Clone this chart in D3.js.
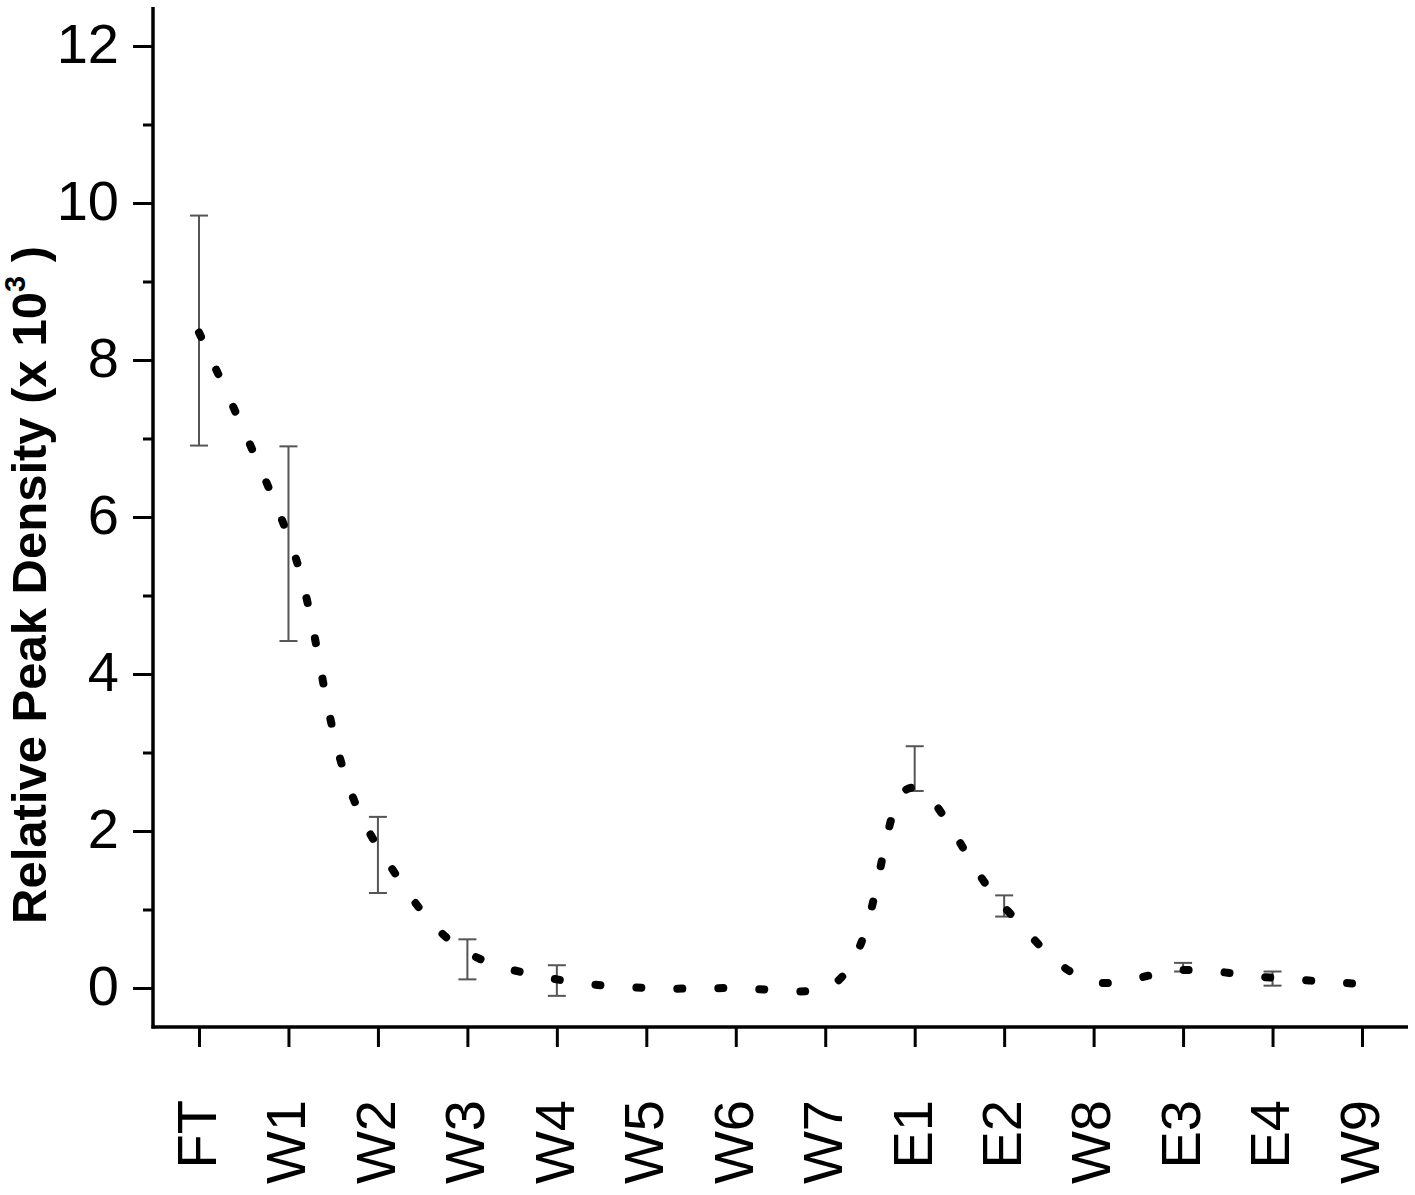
<!DOCTYPE html>
<html><head><meta charset="utf-8">
<script src="https://cdn.jsdelivr.net/npm/d3@7"></script>
<style>body{margin:0;background:#fff}svg{display:block}</style>
</head><body>
<script>
const categories = ["FT","W1","W2","W3","W4","W5","W6","W7","E1","E2","W8","E3","E4","W9"];
const values     = [8.35, 5.75, 1.8, 0.45, 0.11, 0, 0, 0, 2.55, 1.03, 0.08, 0.23, 0.13, 0.05];
const errLow     = [6.91, 4.42, 1.21, 0.11, -0.1, null, null, null, 2.51, 0.91, null, 0.21, 0.03, null];
const errHigh    = [9.84, 6.90, 2.18, 0.62, 0.29, null, null, null, 3.08, 1.18, null, 0.32, 0.21, null];
const yMajorTicks = [0,2,4,6,8,10,12];
const yMinorTicks = [1,3,5,7,9,11];

const W = 1415, H = 1195;
const svg = d3.select("body").append("svg").attr("width", W).attr("height", H);

const x = d3.scalePoint().domain(categories).range([199, 1362]);
const y = d3.scaleLinear().domain([0, 12]).range([988, 46]);

const axisX0 = 153, axisY0 = 1027;
const font = "Liberation Sans, Arial, sans-serif";

// minor y ticks
const gMinor = svg.append("g").attr("transform", `translate(${axisX0},0)`)
  .call(d3.axisLeft(y).tickValues(yMinorTicks).tickSize(10).tickFormat(""));
gMinor.select(".domain").remove();
gMinor.selectAll("line").attr("stroke", "#000").attr("stroke-width", 3);

// major y ticks
const gY = svg.append("g").attr("transform", `translate(${axisX0},0)`)
  .call(d3.axisLeft(y).tickValues(yMajorTicks).tickSize(20).tickPadding(0).tickFormat(d3.format("d")));
gY.select(".domain").remove();
gY.selectAll("line").attr("stroke", "#000").attr("stroke-width", 3);
gY.selectAll("text").attr("font-family", font).attr("font-size", 56).attr("fill", "#000")
  .attr("x", -34).attr("dy", 16).attr("text-anchor", "end");

// x ticks
const gX = svg.append("g").attr("transform", `translate(0,${axisY0})`)
  .call(d3.axisBottom(x).tickSize(20).tickFormat(""));
gX.select(".domain").remove();
gX.selectAll("line").attr("stroke", "#000").attr("stroke-width", 3);

// x labels, rotated
svg.append("g").selectAll("text").data(categories).join("text")
  .attr("transform", d => `translate(${x(d)},1100) rotate(-90)`)
  .attr("text-anchor", "end").attr("dy", "0.30em")
  .attr("font-family", font).attr("font-size", 56).attr("fill", "#000")
  .text(d => d);

// spines
svg.append("line").attr("x1", axisX0).attr("x2", axisX0).attr("y1", 7).attr("y2", axisY0 + 1.5)
  .attr("stroke", "#000").attr("stroke-width", 3.5);
svg.append("line").attr("x1", axisX0 - 1.5).attr("x2", 1408).attr("y1", axisY0).attr("y2", axisY0)
  .attr("stroke", "#000").attr("stroke-width", 3.5);

// y label
const yl = svg.append("text")
  .attr("transform", "translate(46,585) rotate(-90)")
  .attr("text-anchor", "middle")
  .attr("font-family", font).attr("font-size", 49).attr("font-weight", "bold").attr("fill", "#000");
yl.append("tspan").text("Relative Peak Density (x 10");
yl.append("tspan").attr("font-size", 29).attr("dy", -21).text("3");
yl.append("tspan").attr("dy", 21).text(" )");

// error bars
const eb = categories.map((c, i) => ({c, lo: errLow[i], hi: errHigh[i]})).filter(d => d.lo !== null);
const gE = svg.append("g").attr("stroke", "#555").attr("stroke-width", 2).attr("fill", "none");
gE.selectAll(".v").data(eb).join("line")
  .attr("x1", d => x(d.c)).attr("x2", d => x(d.c)).attr("y1", d => y(d.lo)).attr("y2", d => y(d.hi));
gE.selectAll(".t").data(eb).join("line")
  .attr("x1", d => x(d.c) - 9).attr("x2", d => x(d.c) + 9).attr("y1", d => y(d.hi)).attr("y2", d => y(d.hi));
gE.selectAll(".b").data(eb).join("line")
  .attr("x1", d => x(d.c) - 9).attr("x2", d => x(d.c) + 9).attr("y1", d => y(d.lo)).attr("y2", d => y(d.lo));

// dotted smooth line
const pts = categories.map((c, i) => [x(c), y(values[i])]);
svg.append("path").datum(pts)
  .attr("d", d3.line().curve(d3.curveCatmullRom.alpha(1)))
  .attr("fill", "none").attr("stroke", "#000").attr("stroke-width", 8)
  .attr("stroke-linecap", "round").attr("stroke-dasharray", "5 36");
</script>
</body></html>
